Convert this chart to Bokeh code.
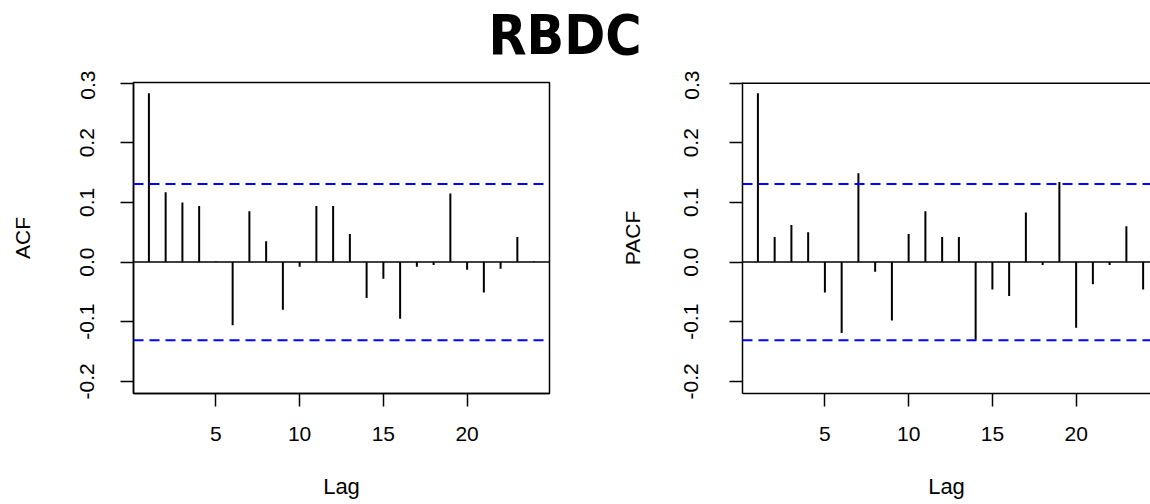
from bokeh.plotting import figure
from bokeh.models import Span, Label, Range1d, ColumnDataSource
from bokeh.layouts import column, row
from bokeh.embed import file_html
from bokeh.resources import INLINE

title_text = "RBDC"
lags = list(range(1, 25))
acf_values = [0.283, 0.117, 0.100, 0.094, 0.001, -0.106, 0.085, 0.035, -0.080, -0.008,
              0.094, 0.094, 0.047, -0.060, -0.028, -0.095, -0.008, -0.005, 0.115, -0.013,
              -0.051, -0.011, 0.042, 0.001]
pacf_values = [0.283, 0.042, 0.062, 0.050, -0.051, -0.119, 0.149, -0.016, -0.098, 0.047,
               0.085, 0.042, 0.042, -0.130, -0.046, -0.057, 0.083, -0.005, 0.134, -0.110,
               -0.037, -0.005, 0.060, -0.046]
ci = 0.131
x_ticks = [5, 10, 15, 20]
y_ticks = [-0.2, -0.1, 0.0, 0.1, 0.2, 0.3]
y_tick_labels = ["-0.2", "-0.1", "0.0", "0.1", "0.2", "0.3"]
x_label = "Lag"

FONT = "Liberation Sans"
FS = "21px"
Y_START, Y_END = -0.2202, 0.3009
X_START = 0.08


def make_panel(vals, ylabel, width, x_end, border_left, border_right, outline,
               ytick_standoff, ylabel_standoff):
    p = figure(width=width, height=433, output_backend="svg", toolbar_location=None,
               x_range=Range1d(X_START, x_end), y_range=Range1d(Y_START, Y_END),
               min_border_left=border_left, min_border_right=border_right,
               min_border_top=12, min_border_bottom=110)
    p.grid.visible = False
    p.background_fill_color = "white"
    p.border_fill_color = "white"
    if outline:
        p.outline_line_color = "black"
        p.outline_line_width = 1.5
        p.outline_line_alpha = 1.0
    else:
        p.outline_line_color = None
        p.add_layout(Span(location=Y_END, dimension="width", line_color="black", line_width=3))
    src = ColumnDataSource(dict(lag=lags, val=vals, zero=[0.0] * len(lags)))
    p.segment(x0="lag", y0="zero", x1="lag", y1="val", source=src,
              line_color="black", line_width=2, line_cap="butt")
    p.add_layout(Span(location=0.0, dimension="width", line_color="black", line_width=1.5))
    for c in (ci, -ci):
        p.add_layout(Span(location=c, dimension="width", line_color="#0000FF",
                          line_width=2, line_dash="10 6"))
    for ax in (p.xaxis[0], p.yaxis[0]):
        ax.axis_line_color = "black"
        ax.axis_line_width = 1.5
        ax.major_tick_line_color = "black"
        ax.major_tick_line_width = 1.5
        ax.major_tick_out = 13
        ax.major_tick_in = 0
        ax.minor_tick_line_color = None
        ax.major_label_text_font = FONT
        ax.major_label_text_font_size = FS
        ax.major_label_text_color = "black"
        ax.axis_label_text_font = FONT
        ax.axis_label_text_font_size = FS
        ax.axis_label_text_font_style = "normal"
        ax.axis_label_text_color = "black"
    p.xaxis.ticker = x_ticks
    p.xaxis.major_label_standoff = 20
    p.xaxis.axis_label = x_label
    p.xaxis.axis_label_text_font_size = "22px"
    p.xaxis.axis_label_standoff = 30
    p.yaxis.ticker = y_ticks
    p.yaxis.major_label_overrides = {t: l for t, l in zip(y_ticks, y_tick_labels)}
    p.yaxis.major_label_orientation = "vertical"
    p.yaxis.major_label_standoff = ytick_standoff
    p.yaxis.axis_label = ylabel
    p.yaxis.axis_label_standoff = ylabel_standoff
    return p


p1 = make_panel(acf_values, "ACF", 617, 24.92, 133, 68, True, 26, 44)
p2 = make_panel(pacf_values, "PACF", 533, 24.44, 125, 0, False, 31, 38)

pt = figure(width=1150, height=70, output_backend="svg", toolbar_location=None,
            x_range=Range1d(0, 1150), y_range=Range1d(0, 70),
            x_axis_type=None, y_axis_type=None, min_border=0)
pt.grid.visible = False
pt.outline_line_color = None
pt.add_layout(Label(x=564.5, y=36, text=title_text,
                    text_font="DejaVu Sans Condensed", text_font_style="bold",
                    text_font_size="55px", text_align="center", text_baseline="middle",
                    text_color="black"))

layout = column(pt, row(p1, p2, spacing=0), spacing=0)
open("out.html", "w").write(file_html(layout, INLINE))
